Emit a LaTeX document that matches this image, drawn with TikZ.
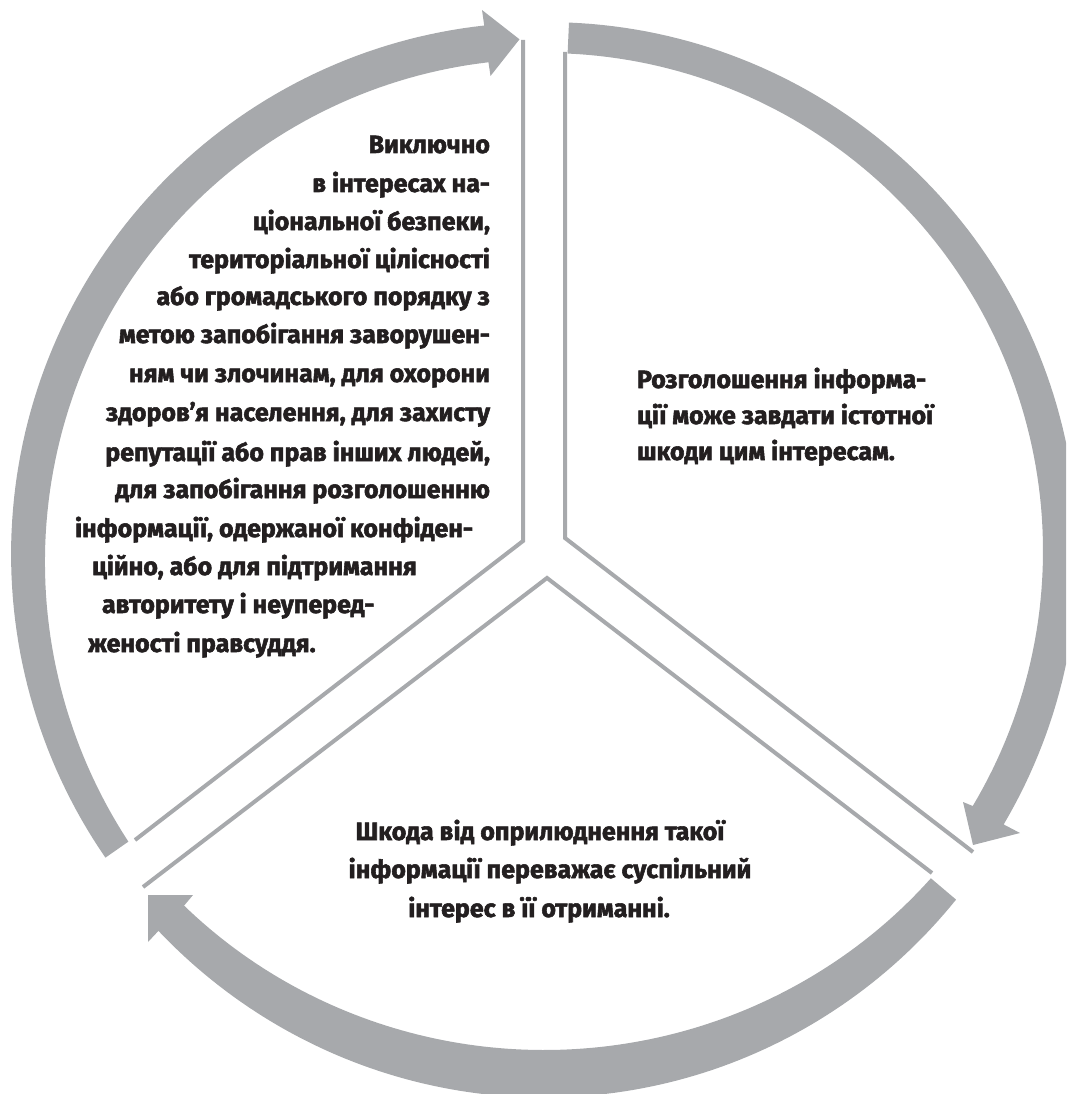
\documentclass[tikz,border=0pt]{standalone}
\usepackage{fontspec}
\newfontfamily\labfont[FakeStretch=1.0, BoldFeatures={FakeBold=2.2}]{Fira Sans}
\definecolor{arcgrey}{HTML}{A7A9AC}
\definecolor{ink}{HTML}{231F20}
\tikzset{
  band/.style={fill=arcgrey, draw=none},
  divider/.style={draw=arcgrey, line width=4pt},
  lbl/.style={inner sep=0pt, outer sep=0pt, text=ink, font=\labfont\bfseries\fontsize{25}{30}\selectfont},
}
\begin{document}
\begin{tikzpicture}[x=1pt,y=1pt]
\useasboundingbox (0,0) rectangle (1066,-1094);
\clip (0,0) rectangle (1066,-1094);
% ---- left arrow (bottom-left up to top)
\fill[band] plot[domain=214.9:96.6, samples=100]
  ({545+(529+7*((\x-96.6)/118.3))*cos(\x)}, {-551+(529+7*((\x-96.6)/118.3))*sin(\x)})
  -- (482,-10) coordinate (LHo) -- (519.5,-39.3) coordinate (LHt) -- (490.5,-76) coordinate (LHi)
  -- plot[domain=96.6:214.9, samples=100]
  ({545+(492+16*((\x-96.6)/118.3)^2)*cos(\x)}, {-551+(492+16*((\x-96.6)/118.3)^2)*sin(\x)})
  -- cycle;
% ---- right arrow (top down to bottom-right)
\fill[band] plot[domain=87.4:-30.8, samples=100]
  ({545+(529+5*((87.4-\x)/118.2))*cos(\x)}, {-551+(529+5*((87.4-\x)/118.2))*sin(\x)})
  -- (1020,-833) coordinate (RHo) -- (973,-845) coordinate (RHt) -- (963,-802) coordinate (RHi)
  -- plot[domain=-30.8:87.4, samples=100]
  ({545+498*cos(\x)}, {-551+498*sin(\x)})
  -- cycle;
% ---- bottom arrow (bottom-right round to bottom-left)
\fill[band] plot[domain=-40.3:-135.5, samples=100]
  ({545+(539+3*((\x+40.3)*(-0.010504))+6*sin((\x+40.3)*(-1.89076)))*cos(\x)},
   {-551+(539+3*((\x+40.3)*(-0.010504))+6*sin((\x+40.3)*(-1.89076)))*sin(\x)})
  -- (148,-942) coordinate (BHo) -- (148,-895) coordinate (BHt) -- (193,-895) coordinate (BHi)
  -- plot[domain=-135.5:-40.3, samples=100]
  ({545+(506-7*sin((\x+40.3)*(-1.89076)))*cos(\x)},
   {-551+(506-7*sin((\x+40.3)*(-1.89076)))*sin(\x)})
  -- cycle;
% ---- sector outlines
\coordinate (L1) at (523,-40);  \coordinate (L2) at (523,-541); \coordinate (L3) at (135,-840);
\coordinate (R1) at (565,-52);  \coordinate (R2) at (565,-538); \coordinate (R3) at (973,-852);
\coordinate (B1) at (143,-887); \coordinate (B2) at (547,-578); \coordinate (B3) at (932,-873);
\draw[divider] (L1) -- (L2) -- (L3);
\draw[divider] (R1) -- (R2) -- (R3);
\draw[divider] (B1) -- (B2) -- (B3);
% ---- left text
\node[lbl, anchor=base east] (t1)  at (490,-153) {Виключно};
\node[lbl, anchor=base east] (t2)  at (490,-192) {в інтересах на-};
\node[lbl, anchor=base east] (t3)  at (490,-230) {ціональної безпеки,};
\node[lbl, anchor=base east] (t4)  at (490,-268) {територіальної цілісності};
\node[lbl, anchor=base east] (t5)  at (490,-305) {або громадського порядку з};
\node[lbl, anchor=base east] (t6)  at (490,-343) {метою запобігання заворушен-};
\node[lbl, anchor=base east] (t7)  at (490,-382) {ням чи злочинам, для охорони};
\node[lbl, anchor=base east] (t8)  at (490,-421) {здоров’я населення, для захисту};
\node[lbl, anchor=base east] (t9)  at (490,-461) {репутації або прав інших людей,};
\node[lbl, anchor=base east] (t10) at (490,-498) {для запобігання розголошенню};
\node[lbl, anchor=base west] (t11) at (75,-537)  {інформації, одержаної конфіден-};
\node[lbl, anchor=base west] (t12) at (92,-575)  {ційно, або для підтримання};
\node[lbl, anchor=base west] (t13) at (102,-613) {авторитету і неуперед-};
\node[lbl, anchor=base west] (t14) at (88,-652)  {женості правсуддя.};
% ---- right text
\node[lbl, anchor=base west] (r1) at (637,-388) {Розголошення інформа-};
\node[lbl, anchor=base west] (r2) at (637,-424) {ції може завдати істотної};
\node[lbl, anchor=base west] (r3) at (637,-460) {шкоди цим інтересам.};
% ---- bottom text
\node[lbl, anchor=base] (b1) at (540,-840) {Шкода від оприлюднення такої};
\node[lbl, anchor=base] (b2) at (550,-878) {інформації переважає суспільний};
\node[lbl, anchor=base] (b3) at (539,-917) {інтерес в її отриманні.};
\end{tikzpicture}
\end{document}
